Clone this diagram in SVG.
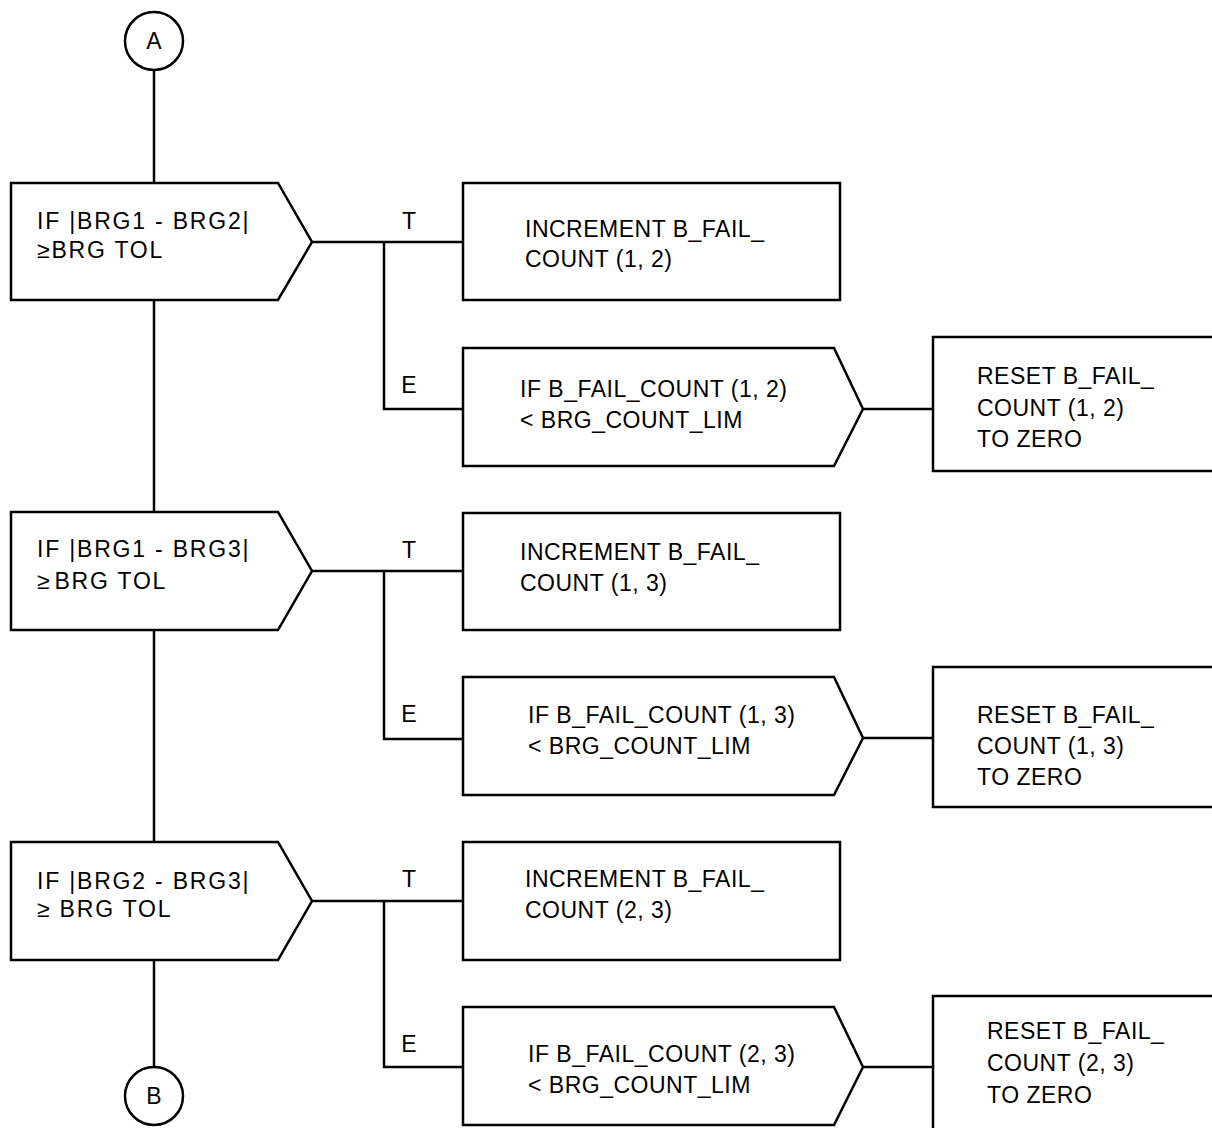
<svg xmlns="http://www.w3.org/2000/svg" width="1212" height="1128" viewBox="0 0 1212 1128">
<style>
.s{fill:#fff;stroke:#000;stroke-width:2.5;stroke-linejoin:miter}
.c{fill:none;stroke:#000;stroke-width:2.5}
.t{font-family:"Liberation Sans",Arial,sans-serif;font-size:23px;letter-spacing:0.5px;fill:#000}
.d{letter-spacing:1.8px}
.l{font-family:"Liberation Sans",Arial,sans-serif;font-size:23px;fill:#000;text-anchor:middle}
</style>
<rect width="1212" height="1128" fill="#fff"/>
<g id="connectors">
<path class="c" d="M154 70V183M154 300V512M154 630V842M154 960V1067"/>
<path class="c" d="M312 242H463M384 242V409H463M863 409H933"/>
<path class="c" d="M312 571H463M384 571V739H463M863 738H933"/>
<path class="c" d="M312 901H463M384 901V1067H463M863 1067H933"/>
<text class="l" x="409" y="229">T</text>
<text class="l" x="409" y="393">E</text>
<text class="l" x="409" y="558">T</text>
<text class="l" x="409" y="722">E</text>
<text class="l" x="409" y="887">T</text>
<text class="l" x="409" y="1052">E</text>
</g>
<g id="connA"><circle class="s" cx="154" cy="41" r="29"/><text class="l" x="154" y="49">A</text></g>
<g id="connB"><circle class="s" cx="154" cy="1096" r="29"/><text class="l" x="154" y="1104">B</text></g>
<g id="dec1"><path class="s" d="M11 183H278L312 242L278 300H11Z"/>
<text class="t d" x="37" y="229">IF |BRG1 - BRG2|</text><text class="t d" x="37" y="258">≥BRG TOL</text></g>
<g id="inc1"><rect class="s" x="463" y="183" width="377" height="117"/>
<text class="t" x="525" y="237">INCREMENT B_FAIL_</text><text class="t" x="525" y="267">COUNT (1, 2)</text></g>
<g id="else1"><path class="s" d="M463 348H834L863 409L834 466H463Z"/>
<text class="t" x="520" y="397">IF B_FAIL_COUNT (1, 2)</text><text class="t" x="520" y="428">&lt; BRG_COUNT_LIM</text></g>
<g id="reset1"><rect class="s" x="933" y="337" width="300" height="134"/>
<text class="t" x="977" y="384">RESET B_FAIL_</text><text class="t" x="977" y="416">COUNT (1, 2)</text><text class="t" x="977" y="447">TO ZERO</text></g>
<g id="dec2"><path class="s" d="M11 512H278L312 571L278 630H11Z"/>
<text class="t d" x="37" y="557">IF |BRG1 - BRG3|</text><text class="t d" x="37" y="589">≥<tspan dx="3">BRG TOL</tspan></text></g>
<g id="inc2"><rect class="s" x="463" y="513" width="377" height="117"/>
<text class="t" x="520" y="560">INCREMENT B_FAIL_</text><text class="t" x="520" y="591">COUNT (1, 3)</text></g>
<g id="else2"><path class="s" d="M463 677H834L863 738L834 795H463Z"/>
<text class="t" x="528" y="723">IF B_FAIL_COUNT (1, 3)</text><text class="t" x="528" y="754">&lt; BRG_COUNT_LIM</text></g>
<g id="reset2"><rect class="s" x="933" y="667" width="300" height="140"/>
<text class="t" x="977" y="723">RESET B_FAIL_</text><text class="t" x="977" y="754">COUNT (1, 3)</text><text class="t" x="977" y="785">TO ZERO</text></g>
<g id="dec3"><path class="s" d="M11 842H278L312 901L278 960H11Z"/>
<text class="t d" x="37" y="889">IF |BRG2 - BRG3|</text><text class="t d" x="37" y="917">≥ BRG TOL</text></g>
<g id="inc3"><rect class="s" x="463" y="842" width="377" height="118"/>
<text class="t" x="525" y="887">INCREMENT B_FAIL_</text><text class="t" x="525" y="918">COUNT (2, 3)</text></g>
<g id="else3"><path class="s" d="M463 1007H834L863 1067L834 1125H463Z"/>
<text class="t" x="528" y="1062">IF B_FAIL_COUNT (2, 3)</text><text class="t" x="528" y="1093">&lt; BRG_COUNT_LIM</text></g>
<g id="reset3"><rect class="s" x="933" y="996" width="300" height="150"/>
<text class="t" x="987" y="1039">RESET B_FAIL_</text><text class="t" x="987" y="1071">COUNT (2, 3)</text><text class="t" x="987" y="1103">TO ZERO</text></g>
</svg>
